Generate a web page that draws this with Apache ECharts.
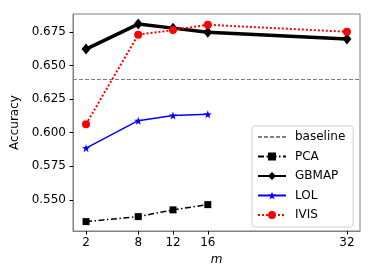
<!DOCTYPE html>
<html><head><meta charset="utf-8">
<script src="https://cdn.jsdelivr.net/npm/echarts@6/dist/echarts.min.js"></script>
<style>html,body{margin:0;padding:0;background:#fff}#c{width:374px;height:280px}</style>
</head><body><div id="c"></div>
<script>
const mValues = [2, 8, 12, 16, 32];
const xTicks = [2, 8, 12, 16, 32];
const yTicks = [0.55, 0.575, 0.6, 0.625, 0.65, 0.675];
const baseline = 0.6415;
const pca = [0.5339, 0.5376, 0.5426, 0.5465];
const gbmap = [0.6621, 0.6807, 0.6777, 0.6746, 0.6696];
const lol = [0.5885, 0.6089, 0.6128, 0.6136];
const ivis = [0.6063, 0.6728, 0.6763, 0.6802, 0.6750];

const pair = arr => arr.map((v, i) => [mValues[i], v]);
const font = 'DejaVu Sans';
const chart = echarts.init(document.getElementById('c'), null, {renderer: 'canvas'});
chart.setOption({
  animation: false,
  textStyle: {fontFamily: font},
  grid: {left: 73, right: 14, top: 14, bottom: 49, show: true, borderColor: '#808080', borderWidth: 1, backgroundColor: 'transparent'},
  xAxis: {
    type: 'value', min: 0.5, max: 33.5,
    name: 'm', nameLocation: 'middle', nameGap: 21,
    nameTextStyle: {fontFamily: font, fontSize: 12, fontStyle: 'italic', color: '#000'},
    axisLine: {show: true, lineStyle: {color: '#808080'}},
    axisTick: {show: true, customValues: xTicks, length: 3.5, lineStyle: {color: '#000'}},
    axisLabel: {customValues: xTicks, fontFamily: font, fontSize: 12, color: '#000', margin: 6},
    splitLine: {show: false}
  },
  yAxis: {
    type: 'value', min: 0.5269, max: 0.6882,
    name: 'Accuracy', nameLocation: 'middle', nameGap: 47,
    nameTextStyle: {fontFamily: font, fontSize: 12, color: '#000'},
    axisLine: {show: true, lineStyle: {color: '#808080'}},
    axisTick: {show: true, customValues: yTicks, length: 3.5, lineStyle: {color: '#000'}},
    axisLabel: {customValues: yTicks, fontFamily: font, fontSize: 12, color: '#000', margin: 7,
      formatter: v => v.toFixed(3)},
    splitLine: {show: false}
  },
  legend: {
    orient: 'vertical', left: 252, top: 126,
    width: 100,
    padding: [5, 8, 6, 5],
    itemGap: 7.5, itemWidth: 28, itemHeight: 10,
    backgroundColor: '#fff', borderColor: '#d0d0d0', borderWidth: 1, borderRadius: 3,
    textStyle: {fontFamily: font, fontSize: 12, color: '#000', padding: [0, 0, 0, 4]},
    data: [
      {name: 'baseline', itemStyle: {opacity: 0}},
      {name: 'PCA'},
      {name: 'GBMAP'},
      {name: 'LOL'},
      {name: 'IVIS'}
    ]
  },
  series: [
    {name: 'baseline', type: 'line', data: [], symbol: 'none',
      lineStyle: {color: '#808080', width: 1, type: [4, 2]}, itemStyle: {color: '#808080'},
      markLine: {silent: true, symbol: 'none', label: {show: false},
        lineStyle: {color: '#808080', width: 1, type: [4, 2]},
        data: [{yAxis: baseline}]}},
    {name: 'PCA', type: 'line', data: pair(pca), symbol: 'rect', symbolSize: 7,
      lineStyle: {color: '#000', width: 1.5, type: [6, 2.5, 1.5, 2.5]}, itemStyle: {color: '#000'}, z: 3},
    {name: 'GBMAP', type: 'line', data: pair(gbmap), symbol: 'diamond', symbolSize: [9, 11],
      lineStyle: {color: '#000', width: 3.5}, itemStyle: {color: '#000'}, z: 4},
    {name: 'LOL', type: 'line', data: pair(lol), symbol: 'path://M0,-10L2.35,-3.24L9.51,-3.09L3.8,1.24L5.88,8.09L0,4L-5.88,8.09L-3.8,1.24L-9.51,-3.09L-2.35,-3.24Z', symbolSize: 8,
      lineStyle: {color: '#0000ff', width: 1.5}, itemStyle: {color: '#0000ff'}, z: 5},
    {name: 'IVIS', type: 'line', data: pair(ivis), symbol: 'circle', symbolSize: 8,
      lineStyle: {color: '#ff0000', width: 2, type: [2, 2]}, itemStyle: {color: '#ff0000'}, z: 6}
  ]
});
</script></body></html>
